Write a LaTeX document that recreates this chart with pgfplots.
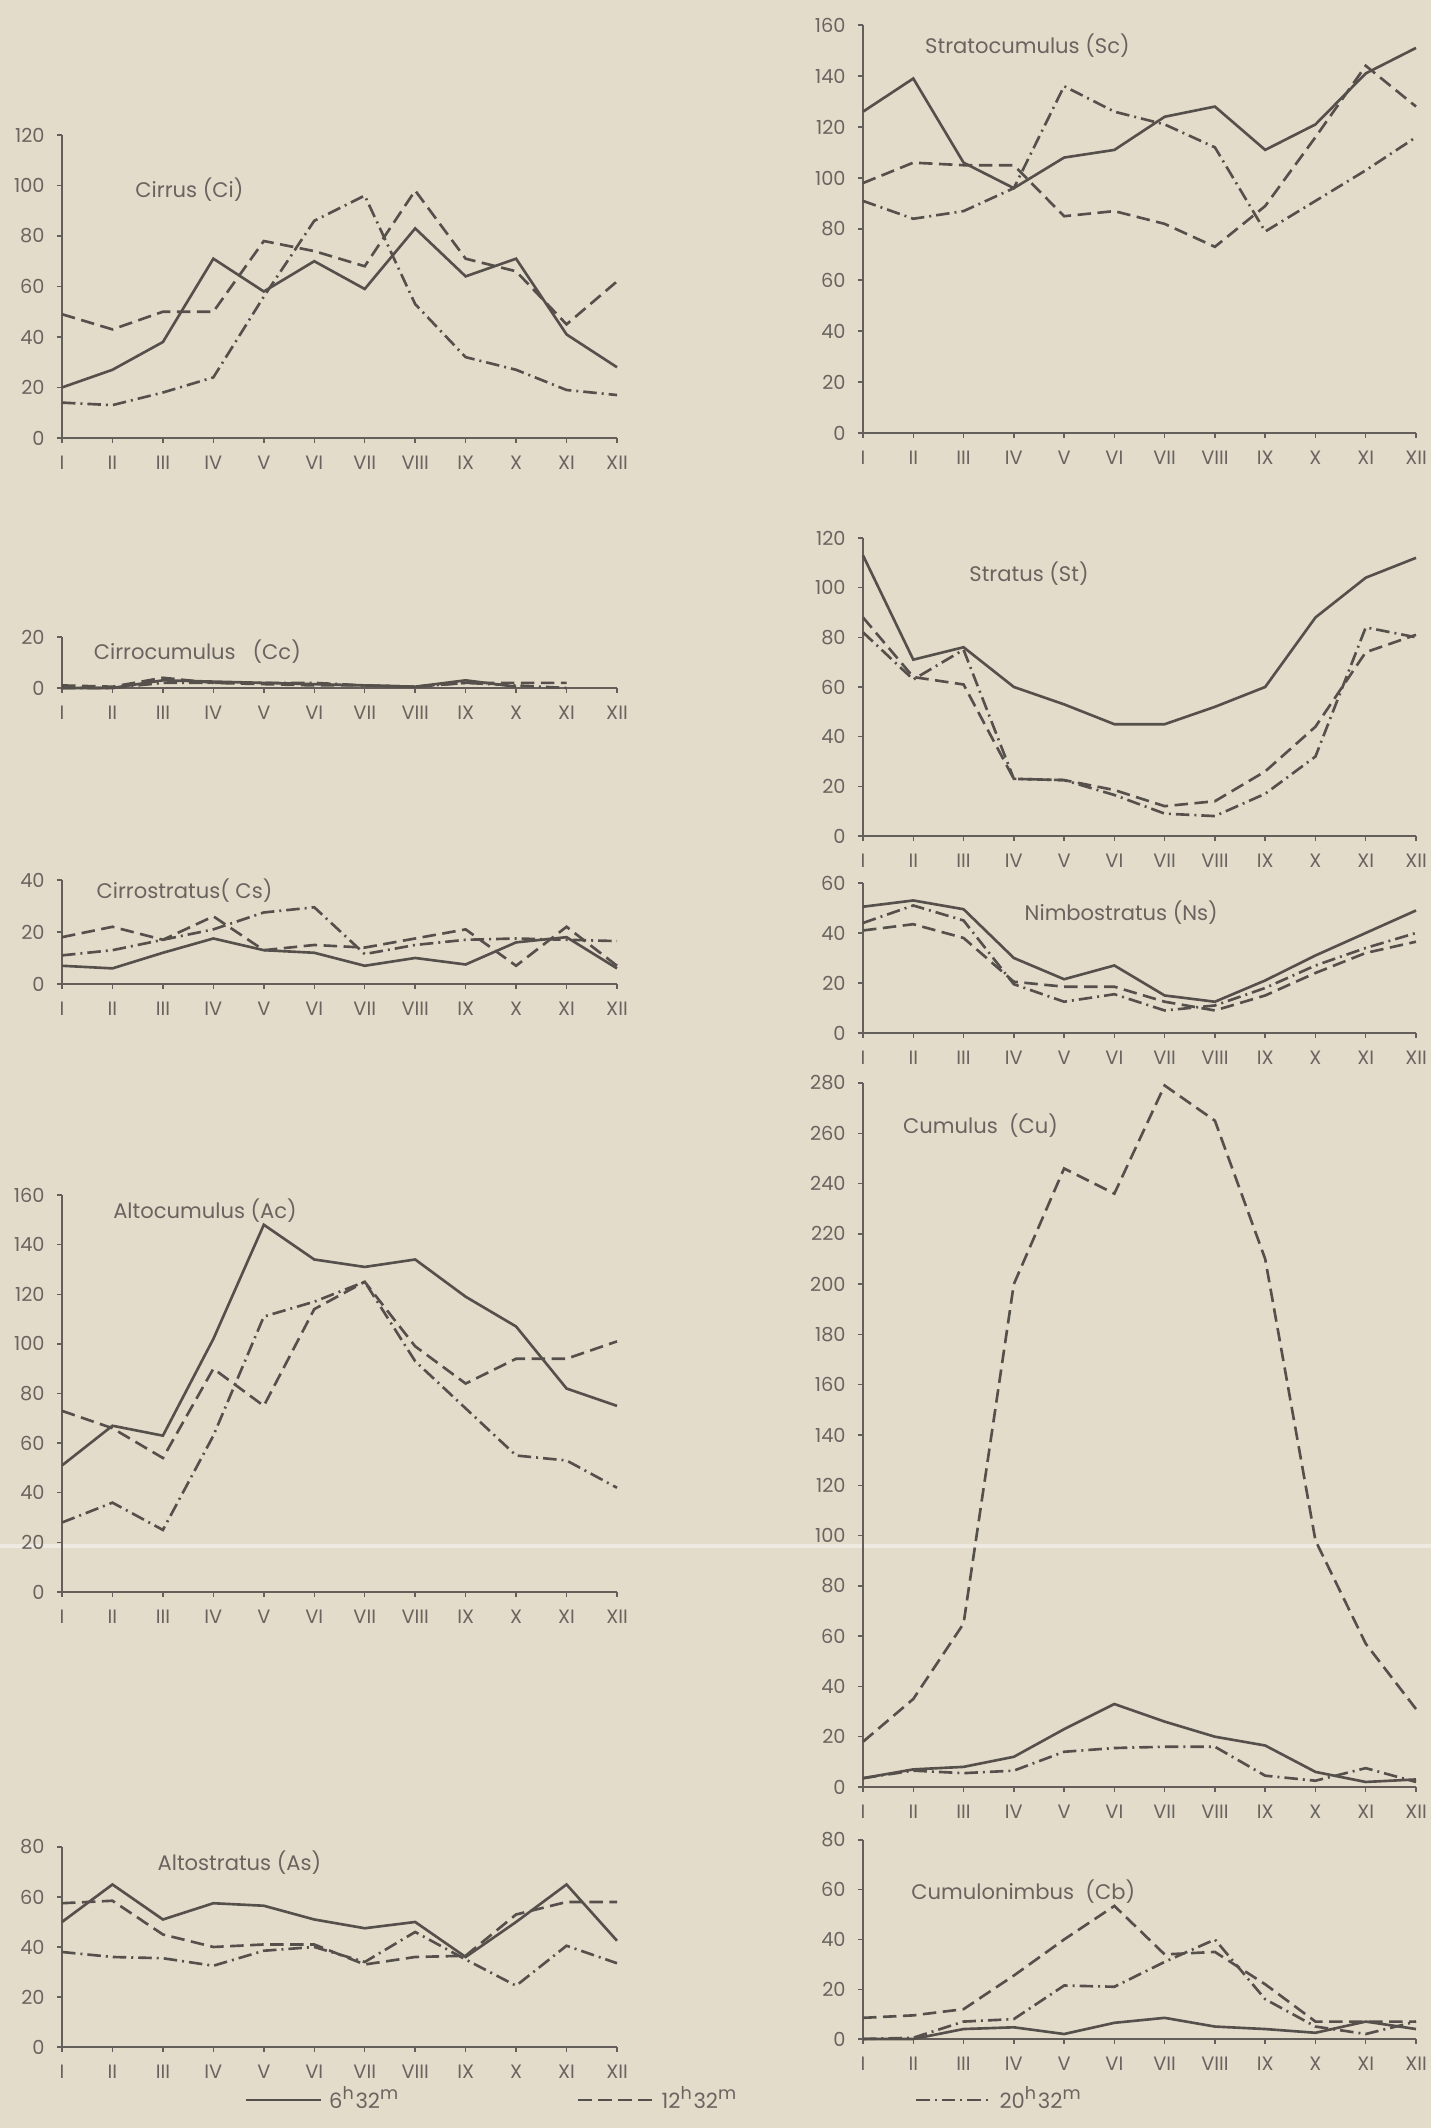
\documentclass[border=0pt]{standalone}
\usepackage{fontspec}
\setmainfont{Poppins}
\usepackage{pgfplots}
\pgfplotsset{compat=1.18}
\definecolor{bgcol}{RGB}{228,220,203}
\definecolor{lncol}{RGB}{85,80,75}
\definecolor{axcol}{RGB}{100,95,90}
\definecolor{txtcol}{RGB}{105,100,95}
\definecolor{foldcol}{RGB}{238,234,226}
\tikzset{
  s1/.style={solid},
  s2/.style={dash pattern=on 1.35mm off 0.65mm},
  s3/.style={dash pattern=on 1.35mm off 0.5mm on 0.2mm off 0.5mm},
  ttl/.style={anchor=west, font=\fontsize{6}{7}\selectfont, text=txtcol},
}
\pgfplotsset{
  cloud/.style={
    scale only axis, anchor=south west,
    axis x line*=bottom, axis y line*=left,
    xmin=1, xmax=12, ymin=0,
    xtick={1,...,12},
    xticklabels={I,II,III,IV,V,VI,VII,VIII,IX,X,XI,XII},
    tick align=outside, major tick length=0.5mm,
    tick style={draw=axcol, line width=0.4pt},
    axis line style={draw=axcol, line width=0.7pt},
    ticklabel style={font=\fontsize{5.5}{6}\selectfont, text=txtcol},
    /pgf/number format/assume math mode=true,
    xticklabel style={yshift=-0.1mm},
    yticklabel style={xshift=0mm},
    clip=false,
    every axis plot/.append style={line width=0.75pt, draw=lncol, no markers},
  },
}
\begin{document}
\begin{tikzpicture}
\useasboundingbox (0,0) rectangle (143.1mm,212.8mm);
\fill[bgcol] (0,0) rectangle (143.1mm,212.8mm);
\draw[foldcol, line width=1pt] (0,58.2mm) -- (143.1mm,58.2mm);

% ---------- Cirrus ----------
\begin{axis}[cloud, at={(6.2mm,169.0mm)}, width=55.5mm, height=30.3mm,
  ymax=120, ytick={0,20,...,120}]
\addplot[s1] coordinates {(1,20)(2,27)(3,38)(4,71)(5,58)(6,70)(7,59)(8,83)(9,64)(10,71)(11,41)(12,28)};
\addplot[s2] coordinates {(1,49)(2,43)(3,50)(4,50)(5,78)(6,74)(7,68)(8,98)(9,71)(10,66)(11,45)(12,62)};
\addplot[s3] coordinates {(1,14)(2,13)(3,18)(4,24)(5,56)(6,86)(7,96)(8,53)(9,32)(10,27)(11,19)(12,17)};
\node[ttl] at (rel axis cs:0.11,0.82) {Cirrus (Ci)};
\end{axis}

% ---------- Cirrocumulus ----------
\begin{axis}[cloud, at={(6.2mm,144.0mm)}, width=55.5mm, height=5.1mm,
  ymax=20, ytick={0,20}]
\addplot[s1] coordinates {(1,0)(2,0)(3,3)(4,2.5)(5,2)(6,1.5)(7,1)(8,0.5)(9,3)(10,0.5)};
\addplot[s2] coordinates {(1,1)(2,0.5)(3,4)(4,2)(5,1.5)(6,1)(7,1)(8,0.5)(9,2)(10,2)(11,2)};
\addplot[s3] coordinates {(1,0)(2,0)(3,2)(4,2)(5,2)(6,2)(7,1)(8,0.5)(9,2)(10,1)(11,0)};
\node[ttl] at (rel axis cs:0.035,0.72) {Cirrocumulus\ \ \ (Cc)};
\end{axis}

% ---------- Cirrostratus ----------
\begin{axis}[cloud, at={(6.2mm,114.4mm)}, width=55.5mm, height=10.4mm,
  ymax=40, ytick={0,20,40}]
\addplot[s1] coordinates {(1,7)(2,6)(3,12)(4,17.5)(5,13)(6,12)(7,7)(8,10)(9,7.5)(10,16)(11,18)(12,6)};
\addplot[s2] coordinates {(1,18)(2,22)(3,17)(4,26)(5,13)(6,15)(7,14)(8,17.5)(9,21)(10,7)(11,22)(12,7)};
\addplot[s3] coordinates {(1,11)(2,13)(3,17)(4,21)(5,27.5)(6,29.5)(7,11.5)(8,15)(9,17)(10,17.5)(11,17)(12,16.5)};
\node[ttl] at (rel axis cs:0.04,0.9) {Cirrostratus( Cs)};
\end{axis}

% ---------- Altocumulus ----------
\begin{axis}[cloud, at={(6.2mm,53.6mm)}, width=55.5mm, height=39.7mm,
  ymax=160, ytick={0,20,...,160}]
\addplot[s1] coordinates {(1,51)(2,67)(3,63)(4,102)(5,148)(6,134)(7,131)(8,134)(9,119)(10,107)(11,82)(12,75)};
\addplot[s2] coordinates {(1,73)(2,66)(3,54)(4,90)(5,75)(6,114)(7,125)(8,99)(9,84)(10,94)(11,94)(12,101)};
\addplot[s3] coordinates {(1,28)(2,36)(3,25)(4,63)(5,111)(6,117)(7,125)(8,93)(9,74)(10,55)(11,53)(12,42)};
\node[ttl] at (rel axis cs:0.07,0.96) {Altocumulus (Ac)};
\end{axis}

% ---------- Altostratus ----------
\begin{axis}[cloud, at={(6.2mm,8.1mm)}, width=55.5mm, height=20.0mm,
  ymax=80, ytick={0,20,...,80},
  legend columns=3,
  legend style={at={(1.09,-0.265)}, anchor=center, draw=none, fill=none,
    font=\fontsize{6}{7}\selectfont, text=txtcol,
    /tikz/every even column/.append style={column sep=17mm}},
  legend image code/.code={\draw[#1] (0mm,0mm) -- (7.5mm,0mm);}]
\addplot[s1] coordinates {(1,50)(2,65)(3,51)(4,57.5)(5,56.5)(6,51)(7,47.5)(8,50)(9,36)(10,50)(11,65)(12,42.5)};
\addlegendentry{6\textsuperscript{h}32\textsuperscript{m}}
\addplot[s2] coordinates {(1,57.5)(2,58.5)(3,45)(4,40)(5,41)(6,41)(7,33)(8,36)(9,36.5)(10,53)(11,58)(12,58)};
\addlegendentry{12\textsuperscript{h}32\textsuperscript{m}}
\addplot[s3] coordinates {(1,38)(2,36)(3,35.5)(4,32.5)(5,38.5)(6,40)(7,34)(8,46)(9,35)(10,24.5)(11,40.5)(12,33.5)};
\addlegendentry{20\textsuperscript{h}32\textsuperscript{m}}
\node[ttl] at (rel axis cs:0.15,0.92) {Altostratus (As)};
\end{axis}

% ---------- Stratocumulus ----------
\begin{axis}[cloud, at={(86.3mm,169.5mm)}, width=55.3mm, height=40.8mm,
  ymax=160, ytick={0,20,...,160}]
\addplot[s1] coordinates {(1,126)(2,139)(3,106)(4,96)(5,108)(6,111)(7,124)(8,128)(9,111)(10,121)(11,141)(12,151)};
\addplot[s2] coordinates {(1,98)(2,106)(3,105)(4,105)(5,85)(6,87)(7,82)(8,73)(9,89)(10,116)(11,144)(12,128)};
\addplot[s3] coordinates {(1,91)(2,84)(3,87)(4,96)(5,136)(6,126)(7,121)(8,112)(9,79)(10,91)(11,103)(12,116)};
\node[ttl] at (rel axis cs:0.09,0.95) {Stratocumulus (Sc)};
\end{axis}

% ---------- Stratus ----------
\begin{axis}[cloud, at={(86.3mm,129.2mm)}, width=55.3mm, height=29.8mm,
  ymax=120, ytick={0,20,...,120}]
\addplot[s1] coordinates {(1,113)(2,71)(3,76)(4,60)(5,53)(6,45)(7,45)(8,52)(9,60)(10,88)(11,104)(12,112)};
\addplot[s2] coordinates {(1,88)(2,64)(3,61)(4,23)(5,22.5)(6,18.5)(7,12)(8,14)(9,26)(10,44)(11,74)(12,81)};
\addplot[s3] coordinates {(1,82)(2,63)(3,75)(4,23)(5,22.5)(6,16.5)(7,9)(8,8)(9,17)(10,32)(11,84)(12,80)};
\node[ttl] at (rel axis cs:0.17,0.88) {Stratus (St)};
\end{axis}

% ---------- Nimbostratus ----------
\begin{axis}[cloud, at={(86.3mm,109.5mm)}, width=55.3mm, height=15.0mm,
  ymax=60, ytick={0,20,40,60}]
\addplot[s1] coordinates {(1,50.5)(2,53)(3,49.5)(4,30)(5,21.5)(6,27)(7,15)(8,12.5)(9,21)(10,31)(11,40)(12,49)};
\addplot[s2] coordinates {(1,41)(2,43.5)(3,38)(4,20.5)(5,18.5)(6,18.5)(7,12.5)(8,9)(9,15)(10,24)(11,32)(12,36.5)};
\addplot[s3] coordinates {(1,44)(2,51)(3,45)(4,19.5)(5,12.5)(6,15.5)(7,9)(8,11)(9,18)(10,27)(11,34)(12,40)};
\node[ttl] at (rel axis cs:0.27,0.8) {Nimbostratus (Ns)};
\end{axis}

% ---------- Cumulus ----------
\begin{axis}[cloud, at={(86.3mm,34.1mm)}, width=55.3mm, height=70.4mm,
  ymax=280, ytick={0,20,...,280}]
\addplot[s1] coordinates {(1,3.5)(2,7)(3,8)(4,12)(5,23)(6,33)(7,26)(8,20)(9,16.5)(10,6)(11,2)(12,3)};
\addplot[s2] coordinates {(1,18)(2,35)(3,65)(4,200)(5,246)(6,236)(7,279)(8,265)(9,210)(10,98)(11,57)(12,31)};
\addplot[s3] coordinates {(1,3.5)(2,6.5)(3,5.5)(4,6.5)(5,14)(6,15.5)(7,16)(8,16)(9,4.5)(10,2.5)(11,7.5)(12,2)};
\node[ttl] at (rel axis cs:0.05,0.94) {Cumulus\ \ (Cu)};
\end{axis}

% ---------- Cumulonimbus ----------
\begin{axis}[cloud, at={(86.3mm,8.9mm)}, width=55.3mm, height=19.9mm,
  ymax=80, ytick={0,20,...,80}]
\addplot[s1] coordinates {(1,0)(2,0)(3,4)(4,4.7)(5,2)(6,6.5)(7,8.5)(8,5)(9,4)(10,2.5)(11,7)(12,4)};
\addplot[s2] coordinates {(1,8.5)(2,9.5)(3,12)(4,25.5)(5,40)(6,53.5)(7,34)(8,35)(9,22)(10,7)(11,7)(12,7)};
\addplot[s3] coordinates {(1,0)(2,0.5)(3,7)(4,8)(5,21.5)(6,21)(7,31)(8,40)(9,16)(10,5)(11,2)(12,7)};
\node[ttl] at (rel axis cs:0.065,0.74) {Cumulonimbus\ \ (Cb)};
\end{axis}
\end{tikzpicture}
\end{document}
